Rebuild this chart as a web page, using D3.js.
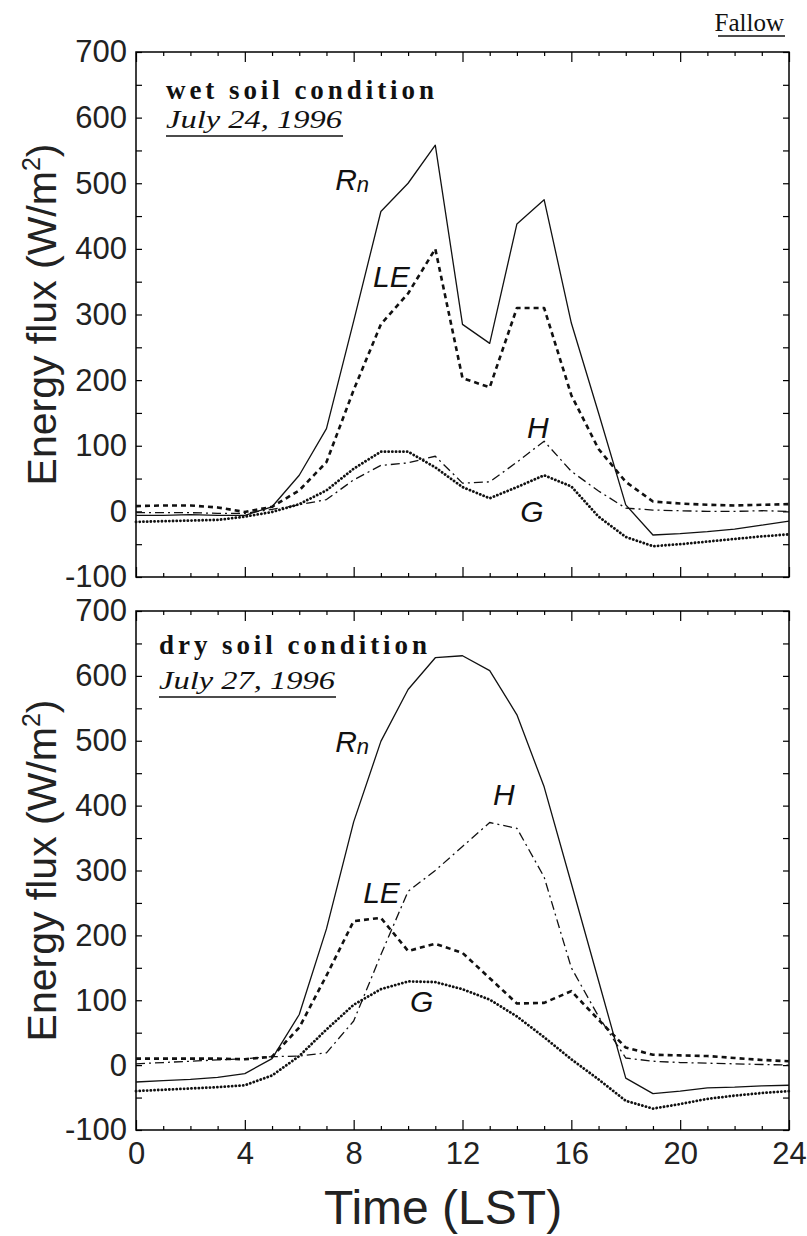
<!DOCTYPE html>
<html>
<head>
<meta charset="utf-8">
<script src="https://cdn.jsdelivr.net/npm/d3@7"></script>
<style>
  body { margin: 0; background: #fff; }
  svg { display: block; }
  .tick text { font-family: "Liberation Sans Narrow", "Arial Narrow", "Liberation Sans", sans-serif; }
</style>
</head>
<body>
<svg id="chart" width="807" height="1236"></svg>
<script>
// ---------- data ----------
const hours = [0,1,2,3,4,5,6,7,8,9,10,11,12,13,14,15,16,17,18,19,20,21,22,23,24];

// wet soil condition, July 24, 1996
const wetRn = [-6,-6,-5,-6,-6,7,55,126,290,457,500,558,285,256,438,475,287,150,10,-36,-34,-31,-27,-21,-15];
const wetLE = [8,9,9,6,-1,7,32,75,185,285,332,400,203,189,310,310,177,95,45,15,12,10,9,10,11];
const wetH  = [-2,-2,-2,-3,-3,3,10,18,48,70,74,84,43,45,75,107,61,31,5,2,1,0,0,1,0];
const wetG  = [-16,-15,-14,-13,-8,-1,11,32,65,91,91,67,37,20,37,55,38,-8,-39,-53,-50,-46,-42,-38,-35];

// dry soil condition, July 27, 1996
const dryRn = [-26,-24,-22,-19,-13,10,78,210,375,499,579,628,631,608,540,429,280,130,-20,-44,-40,-35,-34,-32,-31];
const dryLE = [10,10,10,10,9,13,58,138,222,227,176,187,173,134,95,96,114,70,27,16,15,14,11,8,6];
const dryH  = [2,4,6,8,10,13,14,19,68,170,268,300,337,374,365,290,150,75,11,6,4,3,2,1,0];
const dryG  = [-40,-38,-36,-34,-31,-16,14,55,93,117,129,128,117,101,75,43,9,-22,-55,-67,-60,-52,-47,-43,-40];

const xTickLabels = [0,4,8,12,16,20,24];
const yTickLabels = [-100,0,100,200,300,400,500,600,700];
const yTicksAll   = [-100,-50,0,50,100,150,200,250,300,350,400,450,500,550,600,650,700];
const xTicksAll   = hours;

const seriesNames = ["Rn","LE","H","G"];

const panels = [
  { title: "wet soil condition", date: "July 24, 1996",
    values: { Rn: wetRn, LE: wetLE, H: wetH, G: wetG },
    labels: { Rn: [7.32, 490], LE: [8.71, 342], H: [14.37, 112], G: [14.12, -16] } },
  { title: "dry soil condition", date: "July 27, 1996",
    values: { Rn: dryRn, LE: dryLE, H: dryH, G: dryG },
    labels: { Rn: [7.32, 483], LE: [8.35, 250], H: [13.12, 401], G: [10.07, 82] } }
];

// ---------- layout ----------
const svg = d3.select("#chart");
const X0 = 136, X1 = 789;
const panelY = [[52, 577], [611, 1130]];

const x = d3.scaleLinear().domain([0, 24]).range([X0, X1]);

const styles = {
  Rn: { w: 1.3, dash: null, cap: "butt" },
  LE: { w: 2.6, dash: "5,4", cap: "butt" },
  H:  { w: 1.3, dash: "9,4,2,4", cap: "butt" },
  G:  { w: 2.8, dash: "0.1,3.6", cap: "round" }
};

panels.forEach((p, i) => {
  const [yt, yb] = panelY[i];
  const y = d3.scaleLinear().domain([-100, 700]).range([yb, yt]);
  const g = svg.append("g");

  // frame
  g.append("rect").attr("x", X0).attr("y", yt).attr("width", X1 - X0).attr("height", yb - yt)
    .attr("fill", "none").attr("stroke", "#000").attr("stroke-width", 1.5);

  // x ticks bottom & top (inside)
  const xb = d3.axisBottom(x).tickValues(xTicksAll)
      .tickSize(0).tickFormat(d => (i === 1 && xTickLabels.includes(d)) ? String(d) : "");
  const gxb = g.append("g").attr("transform", `translate(0,${yb})`).call(xb);
  gxb.select(".domain").remove();
  gxb.selectAll(".tick line").attr("y2", d => d % 4 === 0 ? -10 : -4).attr("stroke-width", 1.2);
  gxb.selectAll(".tick text").attr("y", 12).attr("font-size", 31).attr("fill", "#222");

  const xt = d3.axisTop(x).tickValues(xTicksAll).tickSize(0).tickFormat("");
  const gxt = g.append("g").attr("transform", `translate(0,${yt})`).call(xt);
  gxt.select(".domain").remove();
  gxt.selectAll(".tick line").attr("y2", d => d % 4 === 0 ? 10 : 4).attr("stroke-width", 1.2);

  // y ticks left & right (inside)
  const yl = d3.axisLeft(y).tickValues(yTicksAll).tickSize(0)
      .tickFormat(d => yTickLabels.includes(d) ? String(d) : "");
  const gyl = g.append("g").attr("transform", `translate(${X0},0)`).call(yl);
  gyl.select(".domain").remove();
  gyl.selectAll(".tick line").attr("x2", 6).attr("stroke-width", 1.2);
  gyl.selectAll(".tick text").attr("x", -9).attr("font-size", 31).attr("fill", "#222");

  const yr = d3.axisRight(y).tickValues(yTicksAll).tickSize(0).tickFormat("");
  const gyr = g.append("g").attr("transform", `translate(${X1},0)`).call(yr);
  gyr.select(".domain").remove();
  gyr.selectAll(".tick line").attr("x2", -6).attr("stroke-width", 1.2);

  // lines
  seriesNames.forEach(name => {
    const vals = p.values[name];
    const line = d3.line().x((d, k) => x(hours[k])).y(d => y(d));
    const s = styles[name];
    g.append("path").datum(vals).attr("d", line)
      .attr("fill", "none").attr("stroke", "#111")
      .attr("stroke-width", s.w).attr("stroke-dasharray", s.dash)
      .attr("stroke-linecap", s.cap).attr("stroke-linejoin", "round");
  });

  // series labels
  seriesNames.forEach(name => {
    const [lx, lv] = p.labels[name];
    const t = g.append("text").attr("x", x(lx)).attr("y", y(lv))
      .attr("font-family", "'Liberation Sans', Arial, sans-serif")
      .attr("font-style", "italic").attr("font-size", 30).attr("fill", "#111");
    if (name === "Rn") {
      t.append("tspan").text("R");
      t.append("tspan").attr("font-size", 22).attr("dy", 2).text("n");
    } else {
      t.text(name);
    }
  });

  // titles
  const tx = i === 0 ? 166 : 159;
  const titleY = i === 0 ? 99 : 654;
  g.append("text").attr("x", tx).attr("y", titleY)
    .attr("font-family", "'Liberation Serif', 'Times New Roman', serif")
    .attr("font-weight", "bold").attr("font-size", 27).attr("fill", "#111")
    .attr("textLength", 268).attr("lengthAdjust", "spacing")
    .text(p.title);
  const dy = i === 0 ? 128 : 689;
  g.append("text").attr("x", tx).attr("y", dy)
    .attr("font-family", "'Liberation Serif', 'Times New Roman', serif")
    .attr("font-style", "italic").attr("font-size", 26).attr("fill", "#111")
    .attr("textLength", 176).attr("lengthAdjust", "spacingAndGlyphs")
    .text(p.date);
  g.append("line").attr("x1", tx).attr("x2", tx + 177)
    .attr("y1", dy + 8).attr("y2", dy + 8).attr("stroke", "#111").attr("stroke-width", 1.3);

  // y axis title
  const cy = (yt + yb) / 2;
  const yt2 = g.append("text").attr("transform", `translate(56,${cy}) rotate(-90)`)
    .attr("text-anchor", "middle")
    .attr("font-family", "'Liberation Sans', Arial, sans-serif")
    .attr("font-size", 41).attr("fill", "#222");
  yt2.append("tspan").text("Energy flux (W/m");
  yt2.append("tspan").attr("font-size", 25).attr("dy", -16).text("2");
  yt2.append("tspan").attr("dy", 16).text(")");
});

// x axis title
svg.append("text").attr("x", 443).attr("y", 1224)
  .attr("text-anchor", "middle")
  .attr("font-family", "'Liberation Sans', Arial, sans-serif")
  .attr("font-size", 48).attr("fill", "#222")
  .text("Time (LST)");

// Fallow
svg.append("text").attr("x", 784).attr("y", 31).attr("text-anchor", "end")
  .attr("font-family", "'Liberation Serif', 'Times New Roman', serif")
  .attr("font-size", 25).attr("fill", "#111")
  .text("Fallow");
svg.append("line").attr("x1", 718).attr("x2", 785).attr("y1", 36).attr("y2", 36)
  .attr("stroke", "#111").attr("stroke-width", 1.3);
</script>
</body>
</html>
